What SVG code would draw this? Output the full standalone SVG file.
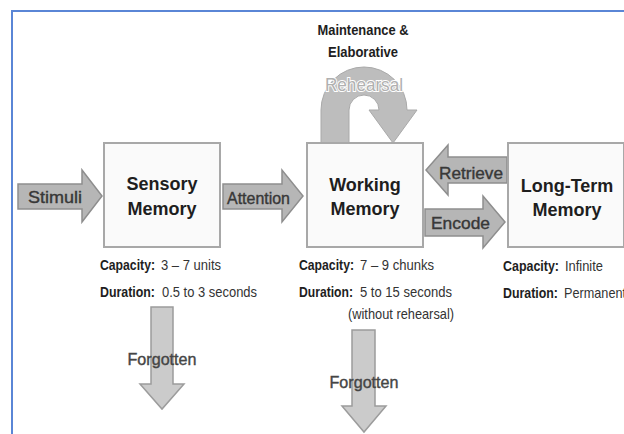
<svg xmlns="http://www.w3.org/2000/svg" width="624" height="434" viewBox="0 0 624 434">
<style>
.box{fill:#fafafa;stroke:#a8a8a8;stroke-width:2}
.title{font-family:"Liberation Sans",Arial,sans-serif;font-size:18px;font-weight:bold;fill:#1e1e1e;text-anchor:middle}
.info{font-family:"Liberation Sans",Arial,sans-serif;font-size:15px;fill:#333}
.b{font-family:"Liberation Sans",Arial,sans-serif;font-size:15px;font-weight:bold;fill:#1e1e1e}
.arr{fill:#b6b6b6;stroke:#8e8e8e;stroke-width:1.5;stroke-linejoin:miter}
.fg{fill:#cbcbcb;stroke:#9c9c9c;stroke-width:1.5}
.alab{font-family:"Liberation Sans",Arial,sans-serif;font-size:17px;fill:#383838;stroke:#383838;stroke-width:0.4}
.flab{font-family:"Liberation Sans",Arial,sans-serif;font-size:17px;fill:#454545;stroke:#454545;stroke-width:0.4;text-anchor:middle}
.top{font-family:"Liberation Sans",Arial,sans-serif;font-size:14px;font-weight:bold;fill:#1e1e1e;text-anchor:middle}
</style>
<rect width="624" height="434" fill="#ffffff"/>
<path d="M12 434 V11 H624" fill="none" stroke="#5a86d6" stroke-width="2"/>

<g id="connectors">
  <g id="stimuli">
    <path class="arr" d="M18 184 H82 V170 L102 196 L82 222 V209 H18 Z"/>
    <text class="alab" x="28" y="203" textLength="54" lengthAdjust="spacingAndGlyphs">Stimuli</text>
  </g>
  <g id="attention">
    <path class="arr" d="M223 184 H282 V170 L303 196 L282 222 V209 H223 Z"/>
    <text class="alab" x="227" y="204" textLength="63" lengthAdjust="spacingAndGlyphs">Attention</text>
  </g>
  <g id="retrieve">
    <path class="arr" d="M507 157 H448 V145 L426 170 L448 195 V183 H507 Z"/>
    <text class="alab" x="439" y="179" textLength="64" lengthAdjust="spacingAndGlyphs">Retrieve</text>
  </g>
  <g id="encode">
    <path class="arr" d="M425 209 H483 V196 L505 222 L483 248 V236 H425 Z"/>
    <text class="alab" x="431" y="229" textLength="59" lengthAdjust="spacingAndGlyphs">Encode</text>
  </g>
  <g id="rehearsal">
    <path d="M321 143 V110 A43 43 0 0 1 407 110 H417 L393 143 L369 110 H379 A15 15 0 0 0 349 110 V143 Z" fill="#bdbdbd" stroke="#a9a9a9" stroke-width="1"/>
    <text x="364" y="91" text-anchor="middle" font-family="'Liberation Sans',Arial,sans-serif" font-size="19" fill="#b0b0b0" stroke="#ffffff" stroke-width="2" paint-order="stroke" textLength="78" lengthAdjust="spacingAndGlyphs">Rehearsal</text>
    <text class="top" x="363" y="35" textLength="91" lengthAdjust="spacingAndGlyphs">Maintenance &amp;</text>
    <text class="top" x="363" y="57" textLength="70" lengthAdjust="spacingAndGlyphs">Elaborative</text>
  </g>
  <g id="forgotten1">
    <path class="fg" d="M151 307 H173 V384 H184 L162 409 L140 384 H151 Z"/>
    <text class="flab" x="162" y="365" textLength="69" lengthAdjust="spacingAndGlyphs">Forgotten</text>
  </g>
  <g id="forgotten2">
    <path class="fg" d="M352 330 H375 V406 H386 L364 432 L342 406 H352 Z"/>
    <text class="flab" x="364" y="388" textLength="69" lengthAdjust="spacingAndGlyphs">Forgotten</text>
  </g>
</g>

<g id="sensory">
  <rect class="box" x="104" y="143" width="116" height="104"/>
  <text class="title" x="162" y="190">Sensory</text>
  <text class="title" x="162" y="215">Memory</text>
  <text class="b" x="100" y="270" textLength="55" lengthAdjust="spacingAndGlyphs">Capacity:</text>
  <text class="info" x="161" y="270" textLength="60" lengthAdjust="spacingAndGlyphs">3 – 7 units</text>
  <text class="b" x="100" y="297" textLength="55" lengthAdjust="spacingAndGlyphs">Duration:</text>
  <text class="info" x="162" y="297" textLength="95" lengthAdjust="spacingAndGlyphs">0.5 to 3 seconds</text>
</g>

<g id="working">
  <rect class="box" x="307" y="143" width="116" height="104"/>
  <text class="title" x="365" y="191">Working</text>
  <text class="title" x="365" y="215">Memory</text>
  <text class="b" x="299" y="270" textLength="55" lengthAdjust="spacingAndGlyphs">Capacity:</text>
  <text class="info" x="360" y="270" textLength="74" lengthAdjust="spacingAndGlyphs">7 – 9 chunks</text>
  <text class="b" x="299" y="297" textLength="54" lengthAdjust="spacingAndGlyphs">Duration:</text>
  <text class="info" x="360" y="297" textLength="92" lengthAdjust="spacingAndGlyphs">5 to 15 seconds</text>
  <text class="info" x="348" y="319" textLength="106" lengthAdjust="spacingAndGlyphs">(without rehearsal)</text>
</g>

<g id="longterm">
  <rect class="box" x="508" y="143" width="116" height="104"/>
  <text class="title" x="567" y="192">Long-Term</text>
  <text class="title" x="567" y="216">Memory</text>
  <text class="b" x="503" y="271" textLength="56" lengthAdjust="spacingAndGlyphs">Capacity:</text>
  <text class="info" x="565" y="271" textLength="38" lengthAdjust="spacingAndGlyphs">Infinite</text>
  <text class="b" x="503" y="298" textLength="55" lengthAdjust="spacingAndGlyphs">Duration:</text>
  <text class="info" x="564" y="298" textLength="62" lengthAdjust="spacingAndGlyphs">Permanent</text>
</g>
</svg>
